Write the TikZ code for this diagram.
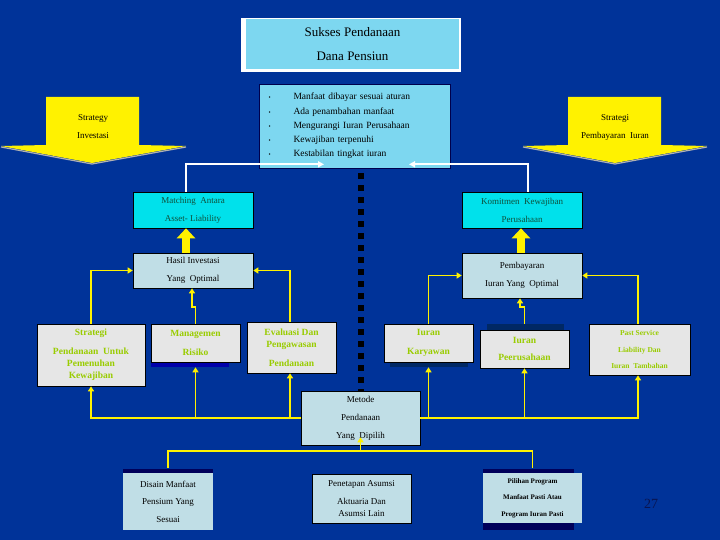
\documentclass[tikz,border=0pt]{standalone}
\usepackage{fontspec}
\setmainfont{Liberation Serif}
\usetikzlibrary{arrows.meta,calc}
\definecolor{bg}{RGB}{0,51,153}
\definecolor{lblue}{RGB}{125,215,240}
\definecolor{cyanbox}{RGB}{0,225,235}
\definecolor{greytxt}{RGB}{15,80,60}
\definecolor{pale}{RGB}{192,222,230}
\definecolor{lgray}{RGB}{230,230,230}
\definecolor{ygreen}{RGB}{153,204,0}
\definecolor{shblue}{RGB}{0,0,170}
\definecolor{shnavy}{RGB}{0,40,100}
\definecolor{band}{RGB}{0,0,90}
\definecolor{numcol}{RGB}{10,20,80}
\tikzset{
  box/.style={draw=black, line width=0.6pt, rectangle, inner sep=0pt, align=center, anchor=center},
  paleb/.style={box, fill=pale, font=\fontsize{9}{18}\selectfont},
  cyanb/.style={box, fill=cyanbox, text=greytxt, font=\fontsize{9}{18}\selectfont},
  grayb/.style={box, fill=lgray, text=ygreen, font=\bfseries\fontsize{9.5}{19}\selectfont},
  yl/.style={draw=yellow, line width=1.6pt},
  ytip/.style={-{Triangle[width=6pt,length=5pt]}},
  wl/.style={draw=white, line width=1.6pt, -{Triangle[width=6pt,length=6pt]}},
  thickarr/.style={draw=yellow, line width=8pt, -{Triangle[width=18pt,length=10pt]}},
  bigarrtxt/.style={font=\fontsize{9}{18}\selectfont, align=center}
}
\begin{document}
\begin{tikzpicture}[x=1pt,y=-1pt]
\fill[bg] (0,0) rectangle (720,540);
\useasboundingbox (0,0) rectangle (720,540);

% title
\fill[white] (241,18) rectangle (461,72);
\node[box, draw=none, fill=lblue, minimum width=213pt, minimum height=50pt, font=\fontsize{13}{24}\selectfont] (title) at (352.5,44) {Sukses Pendanaan\\Dana Pensiun};

% bullets
\node[box, draw=black!70!blue, fill=lblue, minimum width=191pt, minimum height=84pt, text width=172pt, align=left, font=\fontsize{9.5}{14.3}\selectfont] (bullets) at (354.5,126) {%
\makebox[25pt][l]{\fontsize{6}{6}\selectfont •}Manfaat dibayar sesuai aturan\\
\makebox[25pt][l]{\fontsize{6}{6}\selectfont •}Ada penambahan manfaat\\
\makebox[25pt][l]{\fontsize{6}{6}\selectfont •}Mengurangi Iuran Perusahaan\\
\makebox[25pt][l]{\fontsize{6}{6}\selectfont •}Kewajiban terpenuhi\\
\makebox[25pt][l]{\fontsize{6}{6}\selectfont •}Kestabilan tingkat iuran};

% big yellow arrows
\draw[gray!60, line width=1.2pt] (1,147) -- (92,164) -- (186,147);
\fill[yellow] (46,97) -- (139,97) -- (139,145) -- (186,146) -- (92,163) -- (1,146) -- (46,145) -- cycle;
\node[bigarrtxt] (si) at (93,127) {Strategy\\Investasi};
\draw[gray!60, line width=1.2pt] (523,147) -- (615,164) -- (707,147);
\fill[yellow] (568,97) -- (661,97) -- (661,145) -- (707,146) -- (615,163) -- (523,146) -- (568,145) -- cycle;
\node[bigarrtxt] (spi) at (615,127) {Strategi\\Pembayaran~~Iuran};

% upper boxes
\node[cyanb, minimum width=120pt, minimum height=36pt] (matching) at (193,210) {Matching~~Antara\\Asset- Liability};
\node[cyanb, minimum width=120pt, minimum height=36pt] (komitmen) at (522,210) {Komitmen~~Kewajiban\\Perusahaan};
\node[paleb, minimum width=120pt, minimum height=35pt] (hasil) at (193,270.5) {Hasil Investasi\\Yang~~Optimal};
\node[paleb, minimum width=120pt, minimum height=45pt] (pemb) at (522,275.5) {Pembayaran\\Iuran Yang~~Optimal};

% middle gray boxes
\fill[shblue] (151,360) rectangle (229,367);
\fill[shnavy] (390,360) rectangle (468,367);
\fill[shnavy] (487,324) rectangle (564,332);
\node[grayb, minimum width=108pt, minimum height=62pt, font=\bfseries\fontsize{9.5}{12}\selectfont] (strat) at (91,355) {Strategi\\[7pt]Pendanaan~~Untuk\\Pemenuhan\\Kewajiban};
\node[grayb, minimum width=89pt, minimum height=38pt] (manag) at (195.5,343) {Managemen\\Risiko};
\node[grayb, minimum width=89pt, minimum height=51pt, font=\bfseries\fontsize{9.5}{12}\selectfont] (eval) at (291.5,347.5) {Evaluasi Dan\\Pengawasan\\[7pt]Pendanaan};
\node[grayb, minimum width=89pt, minimum height=38pt] (ikar) at (428.5,343) {Iuran\\Karyawan};
\node[grayb, minimum width=89pt, minimum height=38pt, font=\bfseries\fontsize{9.5}{17}\selectfont] (iper) at (524.5,349) {Iuran\\Peerusahaan};
\node[grayb, minimum width=101pt, minimum height=51pt, font=\bfseries\fontsize{7.5}{16.5}\selectfont] (past) at (639.5,349.5) {Past Service\\Liability Dan\\Iuran~~Tambahan};

% lower boxes
\node[paleb, minimum width=119pt, minimum height=54pt] (metode) at (360.5,418) {Metode\\Pendanaan\\Yang~~Dipilih};
\fill[band] (123,469) rectangle (213,474);
\node[paleb, draw=none, minimum width=90pt, minimum height=57pt, font=\fontsize{9}{17.5}\selectfont] (disain) at (168,501.5) {Disain Manfaat\\Pensium Yang\\Sesuai};
\node[paleb, minimum width=99pt, minimum height=49pt, font=\fontsize{9}{12}\selectfont] (penet) at (361.5,498.5) {Penetapan Asumsi\\[6pt]Aktuaria Dan\\Asumsi Lain};
\fill[band] (483,469) rectangle (574,474);
\fill[band] (483,522) rectangle (574,530);
\node[paleb, draw=none, minimum width=99pt, minimum height=50pt, font=\bfseries\fontsize{7}{16.5}\selectfont] (pilih) at (532.5,498) {Pilihan Program\\Manfaat Pasti Atau\\Program Iuran Pasti};

\node[text=numcol, font=\fontsize{14}{14}\selectfont] (num) at (651,504) {27};

% black dashed divider
\draw[black, line width=6pt, dash pattern=on 6pt off 6pt] ([yshift=-5pt]bullets.south -| metode.north) -- (metode.north);

% white connectors
\draw[wl] ([xshift=-7pt]matching.north) |- ([xshift=-30.5pt,yshift=4pt]bullets.south);
\draw[wl] ([xshift=6pt]komitmen.north) |- ([xshift=54.5pt,yshift=4pt]bullets.south);

% thick yellow arrows
\draw[thickarr] ([xshift=-7pt]hasil.north) -- ([xshift=-7pt]matching.south);
\draw[thickarr] ([xshift=-1pt]pemb.north) -- ([xshift=-1pt]komitmen.south);

% loops to hasil / pembayaran
\draw[yl, ytip] (strat.north) |- (hasil.west);
\draw[yl, ytip] (manag.north) -- ++(0,-17) -| ([xshift=-1pt]hasil.south);
\draw[yl, ytip] ([xshift=-1.5pt]eval.north) |- (hasil.east);
\draw[yl, ytip] (ikar.north) |- (pemb.west);
\draw[yl, ytip] ([yshift=6pt]iper.north) -- ++(0,-17) -| ([xshift=-2pt]pemb.south);
\draw[yl, ytip] ([xshift=-1.5pt]past.north) |- (pemb.east);

% bus to metode
\draw[yl, ytip] (metode.west) -| (strat.south);
\draw[yl, ytip] (metode.west) -| ([yshift=-5pt]manag.south);
\draw[yl, ytip] (metode.west) -| ([xshift=-1.5pt]eval.south);
\draw[yl, ytip] (metode.east) -| ([yshift=-5pt]ikar.south);
\draw[yl, ytip] (metode.east) -| (iper.south);
\draw[yl, ytip] (metode.east) -| ([xshift=-1.5pt]past.south);

% bottom tree
\coordinate (mj) at (360.5,451);
\draw[yl, ytip] ([yshift=5pt]disain.north) |- (mj) -- ([yshift=8pt]metode.south);
\draw[yl] ([yshift=5pt]pilih.north) |- (mj);
\end{tikzpicture}
\end{document}
